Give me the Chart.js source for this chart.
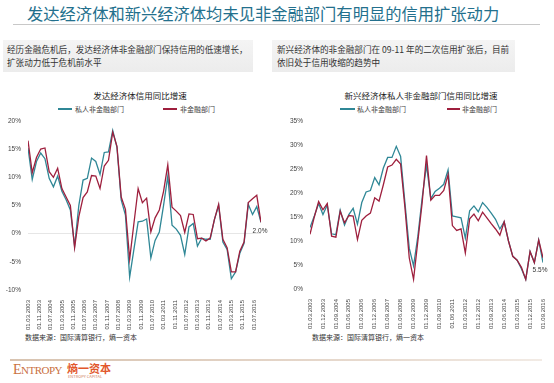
<!DOCTYPE html>
<html><head><meta charset="utf-8">
<script src="https://cdn.jsdelivr.net/npm/chart.js@4/dist/chart.umd.min.js"></script>
<style>
html,body{margin:0;padding:0;background:#fff;}
#root{position:relative;width:554px;height:383px;overflow:hidden;background:#fff;font-family:"Noto Sans CJK SC","Noto Sans",sans-serif;}
.abs{position:absolute;white-space:nowrap;}
#title{left:27px;top:3px;font-size:16.3px;line-height:20px;color:#23708d;}
#tline{left:13px;top:24px;width:527px;height:1px;background:#c8c8c8;}
.box{top:40px;height:32px;background:linear-gradient(#f4f4f4,#ececec);}
.btxt{font-size:8.6px;line-height:13px;color:#333;}
.ctitle{font-size:8.5px;color:#1a1a1a;transform:translateX(-50%);top:89px;}
.lg{font-size:7px;color:#444;top:104px;line-height:10px;}
.sw{height:2px;top:108px;}
.src{font-size:7px;color:#333;top:332px;}
#bline{left:10px;top:359px;width:532px;height:2px;background:linear-gradient(90deg,#d8c3b0,#e8dbd0 70%,#f2ebe5);}
</style></head>
<body><div id="root">
<div id="title" class="abs">发达经济体和新兴经济体均未见非金融部门有明显的信用扩张动力</div>
<div id="tline" class="abs"></div>
<div class="abs box" style="left:3px;width:250px;"></div>
<div class="abs btxt" style="left:7px;top:43px;">经历金融危机后，发达经济体非金融部门保持信用的低速增长，<br>扩张动力低于危机前水平</div>
<div class="abs box" style="left:272px;width:243px;"></div>
<div class="abs btxt" style="left:277px;top:43px;">新兴经济体的非金融部门在 09-11 年的二次信用扩张后，目前<br>依旧处于信用收缩的趋势中</div>

<div class="abs ctitle" style="left:140px;">发达经济体信用同比增速</div>
<div class="abs sw" style="left:58px;width:14px;background:#2f8796;"></div>
<div class="abs lg" style="left:75px;">私人非金融部门</div>
<div class="abs sw" style="left:163px;width:14px;background:#9e1f3d;"></div>
<div class="abs lg" style="left:180px;">非金融部门</div>

<div class="abs ctitle" style="left:421px;">新兴经济体私人非金融部门信用同比增速</div>
<div class="abs sw" style="left:340px;width:15px;background:#2f8796;"></div>
<div class="abs lg" style="left:357px;">私人非金融部门</div>
<div class="abs sw" style="left:447px;width:13px;background:#9e1f3d;"></div>
<div class="abs lg" style="left:462px;">非金融部门</div>

<div class="abs" style="left:0;top:110px;width:275px;height:222px;"><canvas id="c1" width="275" height="222"></canvas></div>
<div class="abs" style="left:280px;top:110px;width:274px;height:222px;"><canvas id="c2" width="274" height="222"></canvas></div>

<div class="abs src" style="left:25px;">数据来源：国际清算银行，熵一资本</div>
<div class="abs src" style="left:312px;">数据来源：国际清算银行，熵一资本</div>

<div id="bline" class="abs"></div>
<div class="abs" style="left:13px;top:361px;font-family:'Liberation Serif',serif;font-size:14px;color:#c9703f;letter-spacing:-0.5px;line-height:18px;">E<span style="font-size:11px;">NTROPY</span></div>
<div class="abs" style="left:67px;top:361px;font-size:11px;font-weight:bold;color:#e2572b;line-height:14px;">熵一资本</div>
<div class="abs" style="left:68px;top:374px;font-size:4px;color:#d08060;line-height:5px;">ENTROPY CAPITAL</div>
</div>
<script>
// ---------- Data ----------
const leftTickLabels = ['01.03.2003','01.11.2003','01.07.2004','01.03.2005','01.11.2005','01.07.2006','01.03.2007','01.11.2007','01.07.2008','01.03.2009','01.11.2009','01.07.2010','01.03.2011','01.11.2011','01.07.2012','01.03.2013','01.11.2013','01.07.2014','01.03.2015','01.11.2015','01.07.2016'];
const rightTickLabels = ['01.03.2003','01.12.2003','01.09.2004','01.06.2005','01.03.2006','01.12.2006','01.09.2007','01.06.2008','01.03.2009','01.12.2009','01.09.2010','01.06.2011','01.03.2012','01.12.2012','01.09.2013','01.06.2014','01.03.2015','01.12.2015','01.09.2016'];

// quarterly, from 2003Q1
const leftPrivate = [15.2,9.6,12.8,14.3,13.3,9.8,8.3,10.2,7.5,6.0,4.2,-2.2,5.0,9.5,9.8,13.4,12.8,10.5,14.4,14.5,18.3,15.3,6.0,3.3,-7.7,-2.8,2.1,2.2,2.6,-4.3,-1.2,0.3,5.0,10.2,1.5,0.8,-0.3,-3.7,1.2,1.8,-2.2,-0.8,-1.0,-1.0,2.5,5.0,-1.5,-2.8,-8.0,-6.8,-3.5,-1.7,5.2,3.4,4.8,2.0];
const leftNonFin = [16.5,10.8,13.5,15.0,15.2,11.0,10.0,11.6,8.0,6.5,5.0,-2.5,3.0,6.4,7.4,10.3,10.2,8.0,12.0,13.0,18.0,15.5,6.5,4.3,-4.5,1.8,8.0,5.5,6.3,0.3,2.8,4.2,7.5,12.2,4.7,4.0,3.2,0.2,3.5,3.4,-0.9,-0.8,-1.3,-0.8,2.5,5.2,-1.0,-2.5,-6.8,-6.8,-3.1,-1.5,5.5,6.2,6.8,2.0];

const rightPrivate = [12.8,15.2,17.8,15.5,17.5,11.5,11.3,16.4,13.3,15.5,16.8,13.5,18.0,20.2,20.5,23.2,21.7,25.2,27.4,27.4,29.7,27.6,18.0,8.5,4.8,11.0,19.0,25.8,18.8,20.3,21.0,21.8,24.8,15.2,15.0,14.8,10.6,16.3,17.3,16.1,18.0,17.0,15.8,14.5,12.5,14.0,10.0,6.8,6.0,4.2,2.0,7.8,5.5,10.2,5.5];
const rightNonFin = [11.4,15.0,18.2,16.5,17.8,11.0,10.8,16.2,13.8,15.3,15.2,10.3,14.3,15.2,15.8,19.0,18.3,21.7,25.4,25.8,27.0,26.0,17.0,6.5,2.0,10.0,18.0,27.8,18.5,19.5,19.5,20.5,23.8,13.2,12.2,12.5,7.5,14.6,15.6,14.2,16.0,14.8,13.6,12.5,11.2,14.0,10.0,6.8,6.0,4.5,2.0,7.8,5.5,10.2,6.5];

const leftEndLabel = '2.0%';
const rightEndLabel = '5.5%';

// ---------- helpers ----------
const TEAL = '#2f8796', RED = '#9e1f3d';
function monthOf(lbl){ const p = lbl.split('.'); return (parseInt(p[2]) - 2003) * 12 + (parseInt(p[1]) - 3); }
function toXY(arr){ return arr.map((v, i) => ({x: i * 3, y: v})); }

const endLabel = {
  id: 'endLabel',
  afterDatasetsDraw(chart, args, opts){
    const meta = chart.getDatasetMeta(opts.ds);
    const pt = meta.data[meta.data.length - 1];
    const ctx = chart.ctx;
    ctx.save();
    ctx.font = '6.5px "Liberation Sans", Arial, sans-serif';
    ctx.fillStyle = '#333';
    ctx.textAlign = 'center';
    ctx.textBaseline = 'middle';
    ctx.fillText(opts.text, pt.x + opts.dx, pt.y + opts.dy);
    ctx.restore();
  }
};

function makeChart(id, priv, nonfin, tickLabels, ymin, ymax, xmax, yW, padR, plotH, lbl, lblDs){
  return new Chart(document.getElementById(id), {
    type: 'line',
    data: { datasets: [
      { label: '非金融部门', data: toXY(nonfin), borderColor: RED, borderWidth: 1.3, pointRadius: 0, tension: 0 },
      { label: '私人非金融部门', data: toXY(priv), borderColor: TEAL, borderWidth: 1.3, pointRadius: 0, tension: 0 }
    ]},
    options: {
      responsive: false, animation: false, devicePixelRatio: 1,
      layout: { padding: { top: 7, right: padR, left: 0, bottom: 0 } },
      plugins: { legend: { display: false }, tooltip: { enabled: false }, endLabel: lbl },
      scales: {
        x: {
          type: 'linear', min: 0, max: xmax, offset: false,
          grid: { display: false }, border: { display: false },
          afterBuildTicks: s => { s.ticks = tickLabels.map(l => ({ value: monthOf(l) })); },
          afterFit: s => { s.height = 222 - 7 - plotH; },
          ticks: { autoSkip: false, maxRotation: 90, minRotation: 90, padding: 2, color: '#444',
            font: { family: '"Liberation Sans", Arial, sans-serif', size: 6 },
            callback: (v, i) => tickLabels[i] }
        },
        y: {
          min: ymin, max: ymax,
          border: { display: false },
          grid: { drawTicks: false, color: c => c.tick && c.tick.value === 0 && ymin < 0 ? '#e6e6e6' : 'rgba(0,0,0,0)' },
          afterFit: s => { s.width = yW; },
          ticks: { stepSize: 5, padding: 7, color: '#444',
            font: { family: '"Liberation Sans", Arial, sans-serif', size: 6.5 },
            callback: v => v + '%' }
        }
      }
    },
    plugins: [endLabel]
  });
}

makeChart('c1', leftPrivate, leftNonFin, leftTickLabels, -10, 20, 165, 28, 14, 173,
  { ds: 1, text: leftEndLabel, dx: -1, dy: 9 }, 1);
makeChart('c2', rightPrivate, rightNonFin, rightTickLabels, 0, 35, 162, 30, 11, 172,
  { ds: 1, text: rightEndLabel, dx: -3, dy: 8 }, 1);
</script>
</body></html>
